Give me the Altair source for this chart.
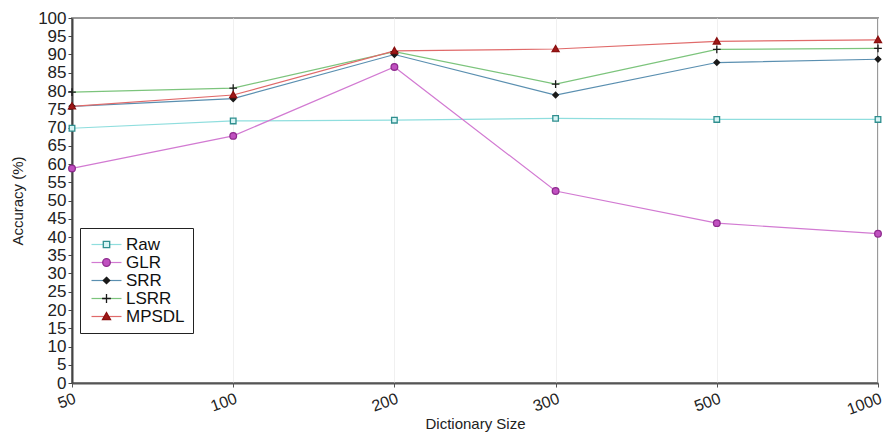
import altair as alt
import pandas as pd

sizes = ["50", "100", "200", "300", "500", "1000"]
series_order = ["Raw", "GLR", "SRR", "LSRR", "MPSDL"]
raw = [69.8, 71.8, 72.0, 72.5, 72.2, 72.2]
glr = [58.8, 67.7, 86.6, 52.6, 43.8, 40.9]
srr = [75.8, 77.9, 90.0, 78.9, 87.8, 88.7]
lsrr = [79.7, 80.8, 90.8, 81.9, 91.4, 91.7]
mpsdl = [75.8, 78.9, 91.0, 91.5, 93.6, 94.0]

line_colors = ["#8fdede", "#d27ad2", "#5a8fb0", "#7cc47c", "#e06a6a"]
marker_strokes = ["#2f8f8f", "#8e2a8e", "#1a1a1a", "#1a1a1a", "#8a1010"]
marker_fills = ["#d8f4f4", "#c050c0", "#1a1a1a", "#1a1a1a", "#a01818"]

# marker shapes for data points (unit coords, centred)
pt_shapes = [
    "M-0.8,-0.8H0.8V0.8H-0.8Z",
    "M-0.95,0A0.95,0.95 0 1,0 0.95,0A0.95,0.95 0 1,0 -0.95,0Z",
    "M0,-0.8L0.8,0L0,0.8L-0.8,0Z",
    "M-1.1,0H1.1M0,-1.1V1.1",
    "M0,-1L1,0.75H-1Z",
]
# legend symbols: line, marker centred at c on the line
c = 2.5
lg_line = "M-1.25,0H6.25"
lg_shapes = [
    f"M{c-0.8},-0.8H{c+0.8}V0.8H{c-0.8}Z",
    f"M{c-0.95},0A0.95,0.95 0 1,0 {c+0.95},0A0.95,0.95 0 1,0 {c-0.95},0Z",
    f"M{c},-0.8L{c+0.8},0L{c},0.8L{c-0.8},0Z",
    f"M{c-1.1},0H{c+1.1}M{c},-1.1V1.1",
    f"M{c},-1L{c+1},0.75H{c-1}Z",
]

values = {"Raw": raw, "GLR": glr, "SRR": srr, "LSRR": lsrr, "MPSDL": mpsdl}
rows = []
for s in series_order:
    for k, v in zip(sizes, values[s]):
        rows.append({"size": k, "acc": v, "series": s, "s1": s, "s2": s})
df = pd.DataFrame(rows)

FONT = "Liberation Sans"

x = alt.X(
    "size:N", sort=sizes, title="Dictionary Size",
    scale=alt.Scale(paddingInner=0, paddingOuter=0, padding=0),
    axis=alt.Axis(labelAngle=-20, labelAlign="right", labelBaseline="top",
                  labelFontSize=16, labelColor="#222", labelFont=FONT,
                  titleFont=FONT, titleFontSize=15, titleFontWeight="normal",
                  titleColor="#222", titleY=33, titleBaseline="top",
                  domainColor="#555", domainWidth=2, tickColor="#555",
                  tickSize=4, labelPadding=3,
                  grid=True, gridColor="#f0f0f0", gridWidth=1),
)
y = alt.Y(
    "acc:Q", title="Accuracy (%)",
    scale=alt.Scale(domain=[0, 100], nice=False),
    axis=alt.Axis(values=list(range(0, 101, 5)), grid=False,
                  labelFontSize=17, labelColor="#222", labelFont=FONT,
                  titleFont=FONT, titleFontSize=15, titleFontWeight="normal",
                  titleColor="#222", titleX=-55, titleBaseline="middle",
                  domainColor="#444", domainWidth=2, tickColor="#444",
                  tickSize=4, labelPadding=2),
)

base = alt.Chart(df)

lines = base.mark_line(strokeWidth=1.2).encode(
    x=x, y=y,
    color=alt.Color("series:N", sort=series_order,
                    scale=alt.Scale(range=line_colors), legend=None),
)

points = base.mark_point(filled=False, opacity=1, size=49, strokeWidth=1.3).encode(
    x=x, y=y,
    shape=alt.Shape("series:N", sort=series_order,
                    scale=alt.Scale(range=pt_shapes), legend=None),
    stroke=alt.Stroke("series:N", sort=series_order,
                      scale=alt.Scale(range=marker_strokes), legend=None),
    fill=alt.Fill("series:N", sort=series_order,
                  scale=alt.Scale(range=marker_fills), legend=None),
)

common_legend = dict(
    orient="none", legendX=8, legendY=210, title=None,
    symbolSize=64, labelOffset=21, labelFontSize=17, labelFont=FONT,
    labelColor="#111", rowPadding=0, padding=8, symbolOpacity=1,
)

legend_lines = base.mark_point(opacity=0).encode(
    x=x, y=y,
    stroke=alt.Stroke("s1:N", sort=series_order,
                      scale=alt.Scale(range=line_colors),
                      legend=alt.Legend(symbolType=lg_line, symbolStrokeWidth=1.2,
                                        strokeColor="#222", fillColor="white",
                                        **common_legend)),
)

mk_legend = alt.Legend(symbolStrokeWidth=1.3, labelOpacity=0, **common_legend)
legend_markers = base.mark_point(opacity=0).encode(
    x=x, y=y,
    shape=alt.Shape("s2:N", scale=alt.Scale(domain=series_order, range=lg_shapes),
                    legend=mk_legend),
    stroke=alt.Stroke("s2:N", scale=alt.Scale(domain=series_order, range=marker_strokes),
                      legend=mk_legend),
    fill=alt.Fill("s2:N", scale=alt.Scale(domain=series_order, range=marker_fills),
                  legend=mk_legend),
)

chart = alt.layer(lines, points, legend_lines, legend_markers).resolve_scale(
    stroke="independent", shape="independent", fill="independent", color="independent"
).properties(
    width=806, height=365,
    autosize=alt.AutoSizeParams(type="none"),
    padding={"left": 64, "top": 10, "right": 6, "bottom": 50},
    background="white",
).configure_view(
    stroke="#999", strokeWidth=2
)

chart.save("out.html", embed_options={"renderer": "svg", "actions": False})
